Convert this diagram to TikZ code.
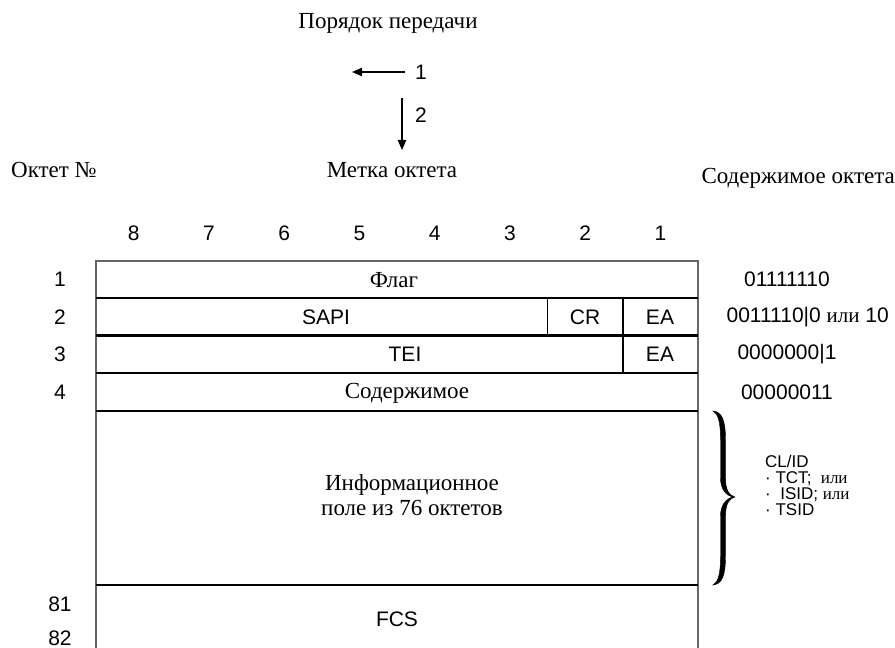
\documentclass[tikz,border=0pt]{standalone}
\usepackage{fontspec}
\setmainfont{Liberation Serif}
\newfontfamily\arialfont{Liberation Sans}
\usetikzlibrary{arrows.meta}
\tikzset{
  serif/.style={font=\fontsize{23}{25}\selectfont,inner sep=0pt},   % Times-like labels
  sans/.style={font=\arialfont\fontsize{21}{23}\selectfont,inner sep=0pt},
  small/.style={font=\arialfont\fontsize{17}{16}\selectfont,inner sep=0pt,align=left},
  frameline/.style={draw=black!60,line width=1.5pt},
  rowline/.style={black,line width=2.6pt},
  divline/.style={black,line width=1.6pt},
  orderarrow/.style={-{Triangle[length=3.6mm,width=3mm]},line width=1.5pt},
  bracefill/.style={fill=black,draw=black,line width=0.4pt},
}

\begin{document}
\begin{tikzpicture}[x=1pt,y=-1pt]
  \useasboundingbox (0,0) rectangle (895,648);
  % header: transmission order
  \node[serif] (order) at (388,23) {Порядок передачи};
  \node[sans] (one) at (421,72) {1};
  \coordinate (leftbeg) at (405,72); \coordinate (lefttip) at (352,72);
  \draw[orderarrow] (leftbeg) -- (lefttip);
  \node[sans] (two) at (421,115) {2};
  \coordinate (downbeg) at (402,98); \coordinate (downtip) at (402,150);
  \draw[orderarrow] (downbeg) -- (downtip);
  \node[serif] (mark) at (392,170) {Метка октета};
  \node[serif,anchor=west] (octno) at (11,170) {Октет №};
  \node[serif,anchor=east] (content) at (895,178) {Содержимое октета};
  % bit numbers
  \foreach \b [count=\i from 0] in {8,...,1}
    \node[sans] (bit\b) at ({96+(\i+0.5)*75.25},233) {\b};
  % frame
  \draw[frameline] (96,648) -- (96,261) -- (698,261) -- (698,648);
  \foreach \y in {298,335.5,373,411,585} \draw[rowline] (96,\y) -- (698,\y);
  \draw[divline] (547.5,298) -- (547.5,335.5);
  \draw[divline] (622.75,298) -- (622.75,373);
  % fields
  \node[serif] (flag) at (394,280) {Флаг};
  \node[sans] (sapi) at (326,317) {SAPI};
  \node[sans] (cr) at (585,317) {CR};
  \node[sans] (ea1) at (660,317) {EA};
  \node[sans] (tei) at (405,354) {TEI};
  \node[sans] (ea2) at (660,354) {EA};
  \node[serif] (ctrl) at (407,393) {Содержимое};
  \node[serif,align=center] (info) at (412,495) {Информационное\\поле из 76 октетов};
  \node[sans] (fcs) at (397,619) {FCS};
  % octet numbers
  \node[sans] (o1) at (60,279) {1};
  \node[sans] (o2) at (60,317) {2};
  \node[sans] (o3) at (60,354) {3};
  \node[sans] (o4) at (60,392) {4};
  \node[sans] (o81) at (60,604) {81};
  \node[sans] (o82) at (60,638) {82};
  % octet contents
  \node[sans] (c1) at (787,279) {01111110};
  \node[sans,anchor=east] (c2) at (889,317) {0011110|0 {\rmfamily или} 10};
  \node[sans] (c3) at (787,354) {0000000|1};
  \node[sans] (c4) at (787,392) {00000011};
  % brace over the information field
  \draw[bracefill] (713,411) .. controls (722,412) and (725.5,420) .. (725.5,440)
    -- (725.5,478) .. controls (725.5,490) and (729,495.5) .. (735,497)
    .. controls (729,498.5) and (725.5,504) .. (725.5,516)
    -- (725.5,556) .. controls (725.5,576) and (722,584) .. (713,585)
    .. controls (718,582) and (720.5,575) .. (720.5,556)
    -- (720.5,516) .. controls (720.5,505) and (726,499) .. (732,497)
    .. controls (726,495) and (720.5,489) .. (720.5,478)
    -- (720.5,440) .. controls (720.5,421) and (718,414) .. (713,411) -- cycle;
  \node[small,anchor=west] (clid) at (765,485)
    {CL/ID\\· TCT;~~{\rmfamily или}\\·~~ISID; {\rmfamily или}\\· TSID};
\end{tikzpicture}
\end{document}
